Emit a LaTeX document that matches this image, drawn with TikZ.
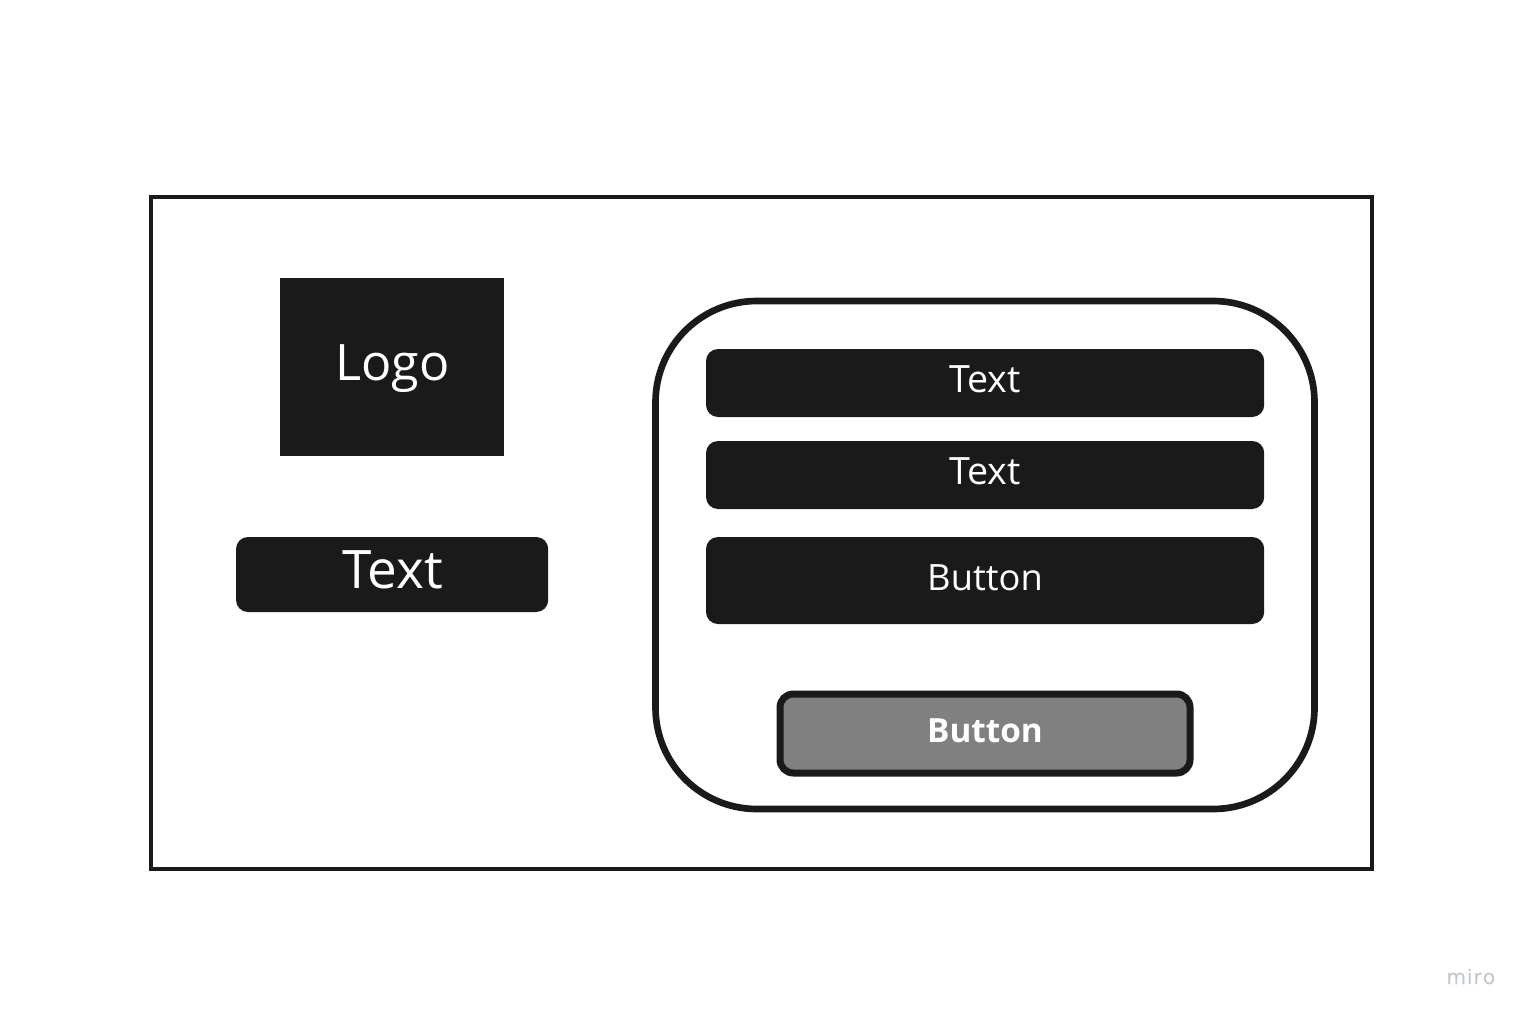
\documentclass[tikz,border=0pt]{standalone}
\usepackage{fontspec}
\setmainfont{Open Sans}
\definecolor{ink}{HTML}{1A1A1A}
\definecolor{midgrey}{HTML}{808080}
\definecolor{wm}{HTML}{C4C9D0}
\tikzset{x=0.75pt,y=-0.75pt,
  bar/.style={fill=ink,draw=none,rounded corners=9pt},
  lab/.style={text=white,anchor=base,inner sep=0pt,font=\fontsize{#1}{#1}\selectfont},
}
\begin{document}
\begin{tikzpicture}
\useasboundingbox (0,0) rectangle (1530,1020);
\fill[white] (0,0) rectangle (1530,1020);
\draw[ink,line width=3pt] (151,197) rectangle (1372,869);
\fill[ink] (280,278) rectangle (504.2,456.2);
\node[lab=37.7] (logo) at (392.7,380) {Logo};
\path[bar] (236,537) rectangle (548.2,612);
\node[lab=39.8] (t0) at (392.5,588.5) {Text};
\draw[ink,line width=5pt,rounded corners=76pt] (655.5,301) rectangle (1314.5,809);
\path[bar] (706,349) rectangle (1264.2,417);
\node[lab=28.2] (t1) at (985,392.5) {Text};
\path[bar] (706,441) rectangle (1264.2,509);
\node[lab=28.2] (t2) at (985,484.5) {Text};
\path[bar] (706,537) rectangle (1264.2,624);
\node[lab=27.2] (b1) at (985,590) {Button};
\draw[ink,fill=midgrey,line width=5.25pt,rounded corners=10pt] (780,694) rectangle (1190,773);
\node[lab=25] (b2) at (985,742) {\bfseries Button};
\node[anchor=base,inner sep=0pt,text=wm,font=\fontsize{15.5}{15.5}\selectfont\addfontfeatures{LetterSpace=6,FakeBold=0.6}] (miro) at (1471,984) {miro};
\end{tikzpicture}
\end{document}
